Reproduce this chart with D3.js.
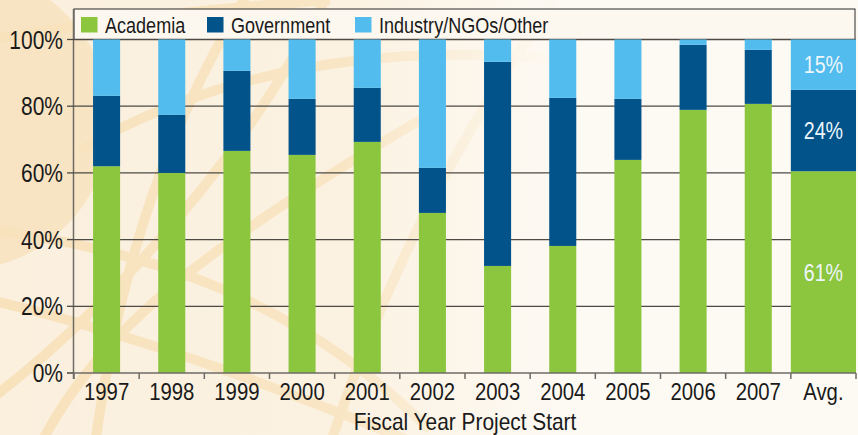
<!DOCTYPE html>
<html>
<head>
<meta charset="utf-8">
<script src="https://cdn.jsdelivr.net/npm/d3@7"></script>
<style>
  body { margin: 0; background: #fdfaf4; }
  svg { display: block; font-family: "Liberation Sans", Arial, sans-serif; }
</style>
</head>
<body>
<svg id="chart" width="858" height="435"></svg>
<script>
// values (percent of projects)
const years = ['1997', '1998', '1999', '2000', '2001', '2002', '2003', '2004', '2005', '2006', '2007', 'Avg.'];
const academia = [62.0, 60.0, 66.6, 65.4, 69.3, 48.0, 32.1, 38.1, 63.9, 78.9, 80.7, 60.5];
const government = [21.1, 17.4, 24.0, 16.8, 16.2, 13.5, 61.2, 44.4, 18.3, 19.5, 16.2, 24.4];
const industry = [16.9, 22.6, 9.4, 17.8, 14.5, 38.5, 6.7, 17.5, 17.8, 1.6, 3.1, 15.1];
const seriesNames = ['Academia', 'Government', 'Industry/NGOs/Other'];
const yTicks = [0, 20, 40, 60, 80, 100];

const colors = ['#8cc63f', '#01538a', '#51bced'];

const width = 858;
const height = 435;
const margin = {top: 39.5, right: 2, bottom: 62, left: 74};

const svg = d3.select('#chart');

// text helper: positions at (x, y) then squeezes horizontally (Arial Narrow look)
function label(g, x, y, str, size, anchor, fill, squeeze) {
    return g.append('text')
        .attr('transform', `translate(${x},${y}) scale(${squeeze || 0.82},1)`)
        .attr('text-anchor', anchor || 'start')
        .attr('font-size', size)
        .attr('fill', fill || '#1a1a1a')
        .text(str);
}

// background: warm beige on the left fading to near white on the right
const defs = svg.append('defs');
const fade = defs.append('linearGradient').attr('id', 'fade')
    .attr('x1', 0).attr('x2', 1).attr('y1', 0).attr('y2', 0);
fade.append('stop').attr('offset', '0%').attr('stop-color', '#fdfaf4').attr('stop-opacity', 0);
fade.append('stop').attr('offset', '40%').attr('stop-color', '#fdfaf4').attr('stop-opacity', 0.15);
fade.append('stop').attr('offset', '65%').attr('stop-color', '#fdfaf4').attr('stop-opacity', 0.95);
fade.append('stop').attr('offset', '100%').attr('stop-color', '#fdfaf4').attr('stop-opacity', 1);

svg.append('rect').attr('width', width).attr('height', height).attr('fill', '#fbf0de');

// decorative globe-ish pattern
const deco = svg.append('g').attr('fill', 'none').attr('stroke', '#f8e2bc').attr('stroke-width', 10);
deco.append('circle').attr('cx', -40).attr('cy', 120).attr('r', 150).attr('fill', '#f8e4c2').attr('stroke', 'none');
deco.append('path').attr('d', 'M250,-10 C170,120 120,260 95,445');
deco.append('path').attr('d', 'M560,-10 C470,120 390,260 330,445');
deco.append('path').attr('d', 'M-10,300 C120,330 260,380 420,445');
deco.append('path').attr('d', 'M-10,400 C120,300 250,150 330,-10');
deco.append('path').attr('d', 'M40,445 C100,330 200,250 420,120');
deco.append('path').attr('d', 'M-10,230 C150,250 300,300 430,430');
deco.append('path').attr('d', 'M80,150 C200,80 360,40 560,60');
deco.append('path').attr('d', 'M-10,40 C100,20 200,10 330,0');
svg.append('rect').attr('width', width).attr('height', height).attr('fill', 'url(#fade)');

const x = d3.scaleBand()
    .domain(years)
    .range([margin.left, width - margin.right])
    .padding(0);

const y = d3.scaleLinear()
    .domain([0, 100])
    .range([height - margin.bottom, margin.top]);

// legend box above the plot
const legend = svg.append('g');
legend.append('rect')
    .attr('x', margin.left).attr('y', 9)
    .attr('width', width - margin.right - margin.left - 1).attr('height', margin.top - 9)
    .attr('fill', '#fdf8ef').attr('stroke', '#2a2a2a').attr('stroke-width', 1);
const legendX = [81, 207, 355];
seriesNames.forEach((name, i) => {
    legend.append('rect')
        .attr('x', legendX[i]).attr('y', 17)
        .attr('width', 16.5).attr('height', 15.5)
        .attr('fill', colors[i]);
    label(legend, legendX[i] + 24, 32.5, name, 22);
});

// gridlines
svg.append('g')
    .selectAll('line')
    .data(yTicks.filter(d => d > 0))
    .join('line')
    .attr('x1', margin.left).attr('x2', width - margin.right)
    .attr('y1', d => y(d)).attr('y2', d => y(d))
    .attr('stroke', '#4d4a45').attr('stroke-width', 1.3);

// stacked bars
const rows = years.map((yr, i) => ({year: yr, Academia: academia[i], Government: government[i], 'Industry/NGOs/Other': industry[i]}));
const stack = d3.stack().keys(seriesNames)(rows);

const barW = yr => yr === 'Avg.' ? x.bandwidth() : x.bandwidth() * 0.415;

svg.append('g')
    .selectAll('g')
    .data(stack)
    .join('g')
    .attr('fill', (d, i) => colors[i])
    .selectAll('rect')
    .data(d => d)
    .join('rect')
    .attr('x', d => x(d.data.year) + (x.bandwidth() - barW(d.data.year)) / 2)
    .attr('width', d => barW(d.data.year))
    .attr('y', d => y(d[1]))
    .attr('height', d => y(d[0]) - y(d[1]));

// value labels on the average bar
const avgIdx = years.indexOf('Avg.');
const avgLabels = svg.append('g');
stack.forEach(s => {
    const seg = s[avgIdx];
    label(avgLabels, x('Avg.') + x.bandwidth() / 2, y((seg[0] + seg[1]) / 2) + 8.5,
        Math.round(seg[1] - seg[0]) + '%', 24, 'middle', '#eef6fc');
});

// y axis
const yAxis = svg.append('g');
yAxis.append('line')
    .attr('x1', margin.left - 0.5).attr('x2', margin.left - 0.5)
    .attr('y1', 9).attr('y2', y(0) + 6)
    .attr('stroke', '#6e6b66').attr('stroke-width', 1.5);
yAxis.selectAll('.tick')
    .data(yTicks)
    .join('line')
    .attr('class', 'tick')
    .attr('x1', margin.left - 7).attr('x2', margin.left)
    .attr('y1', d => y(d)).attr('y2', d => y(d))
    .attr('stroke', '#4d4a45').attr('stroke-width', 1.3);
yTicks.forEach(t => label(yAxis, margin.left - 11, y(t) + 9, t + '%', 25, 'end', null, 0.84));

// x axis with ticks at category boundaries
const xAxis = svg.append('g')
    .attr('transform', `translate(0,${height - margin.bottom})`);
xAxis.append('line')
    .attr('x1', margin.left - 7).attr('x2', width - margin.right)
    .attr('stroke', '#6e6b66').attr('stroke-width', 1.5);
xAxis.selectAll('.bound')
    .data(years)
    .join('line')
    .attr('class', 'bound')
    .attr('x1', d => x(d)).attr('x2', d => x(d))
    .attr('y1', 0).attr('y2', 6)
    .attr('stroke', '#6e6b66').attr('stroke-width', 1.5);
xAxis.append('line')
    .attr('x1', width - margin.right).attr('x2', width - margin.right)
    .attr('y1', 0).attr('y2', 6)
    .attr('stroke', '#6e6b66').attr('stroke-width', 1.5);
years.forEach(yr => label(xAxis, x(yr) + x.bandwidth() / 2, 27, yr, 24.5, 'middle', null, 0.83));

label(svg, 465, 429.5, 'Fiscal Year Project Start', 24, 'middle', null, 0.87);
</script>
</body>
</html>
